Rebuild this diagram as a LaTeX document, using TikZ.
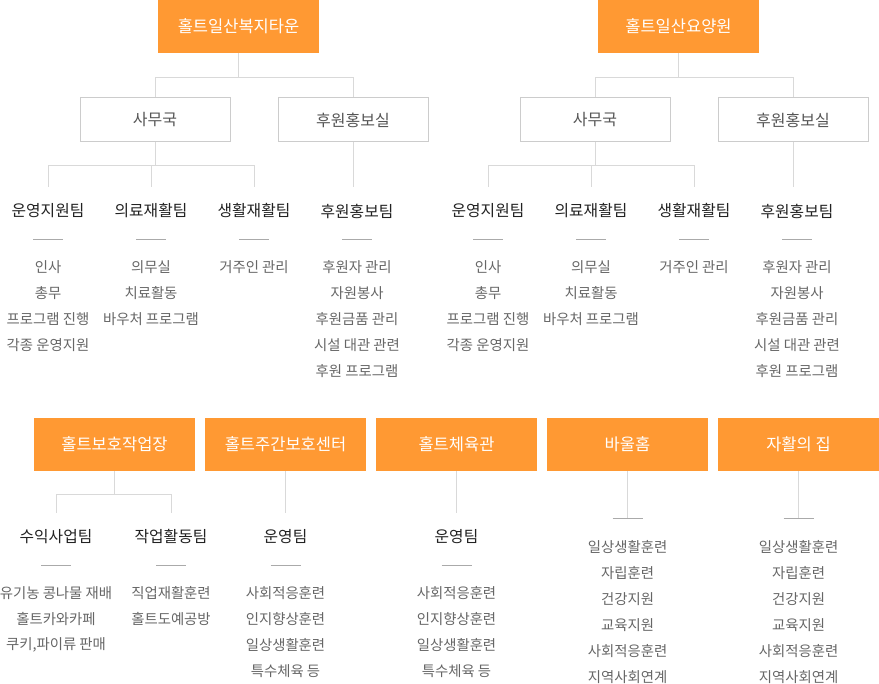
\documentclass[tikz,border=0pt]{standalone}
\usepackage{fontspec}
\setmainfont{Noto Sans CJK KR}
\usetikzlibrary{%
  positioning,%
  calc%
}
\definecolor{holtorange}{RGB}{255,153,51}
\definecolor{linegray}{RGB}{217,217,217}
\definecolor{boxgray}{RGB}{204,204,204}
\definecolor{deptgray}{RGB}{85,85,85}
\definecolor{teamdark}{RGB}{34,34,34}
\definecolor{itemgray}{RGB}{102,102,102}
\definecolor{tickgray}{RGB}{170,170,170}

\begin{document}
\begin{tikzpicture}[
  x=1pt, y=-1pt, line width=1pt,
  orgbox/.style={rectangle, minimum width=161pt, minimum height=53pt, inner sep=0pt, fill=holtorange, text=white, font=\fontsize{16.5}{19}\selectfont},
  deptbox/.style={rectangle, minimum width=150pt, minimum height=44pt, inner sep=0pt, draw=boxgray, fill=white, text=deptgray, font=\fontsize{16}{19}\selectfont},
  team/.style={rectangle, minimum height=46pt, inner sep=0pt, text=teamdark, font=\fontsize{15.8}{19}\selectfont},
  item/.style={inner sep=0pt, text=itemgray, font=\fontsize{14.4}{17}\selectfont},
  link/.style={draw=linegray},
  rule/.style={draw=tickgray}
]
\useasboundingbox (0,0) rectangle (879,684);

% two large facilities on top
\foreach \sx/\nm/\ttl in {0/w/홀트일산복지타운,440/y/홀트일산요양원} {
  \node[orgbox] (\nm-top) at (238.5+\sx,26.5) {\ttl};
  \node[deptbox] (\nm-samu) at (155+\sx,120) {사무국};
  \node[deptbox] (\nm-huwon) at (353+\sx,120) {후원홍보실};

  \node[team] (\nm-t1) at (48+\sx,211) {운영지원팀};
  \node[team] (\nm-t2) at (151+\sx,211) {의료재활팀};
  \node[team] (\nm-t3) at (254+\sx,211) {생활재활팀};
  \node[team] (\nm-t4) at (357+\sx,211) {후원홍보팀};

  \draw[link] (\nm-top.south) -- ++(0,24) -| (\nm-samu.north);
  \draw[link] (\nm-top.south) -- ++(0,24) -| (\nm-huwon.north);
  \draw[link] (\nm-samu.south) -- ++(0,23) -| (\nm-t1.north);
  \draw[link] (\nm-samu.south) -- ++(0,23) -| (\nm-t2.north);
  \draw[link] (\nm-samu.south) -- ++(0,23) -| (\nm-t3.north);
  \draw[link] (\nm-huwon.south) -- (\nm-huwon.south |- \nm-t4.north);

  \foreach \t in {1,...,4}
    \draw[rule] ($(\nm-t\t.south)+(-15,5)$) -- ++(30,0);

  \foreach \txt [count=\i] in {인사,총무,프로그램 진행,각종 운영지원}
    \node[item] (\nm-a\i) at ($(\nm-t1)+(0,30+26*\i)$) {\txt};
  \foreach \txt [count=\i] in {의무실,치료활동,바우처 프로그램}
    \node[item] (\nm-b\i) at ($(\nm-t2)+(0,30+26*\i)$) {\txt};
  \foreach \txt [count=\i] in {거주인 관리}
    \node[item] (\nm-c\i) at ($(\nm-t3)+(0,30+26*\i)$) {\txt};
  \foreach \txt [count=\i] in {후원자 관리,자원봉사,후원금품 관리,시설 대관 관련,후원 프로그램}
    \node[item] (\nm-d\i) at ($(\nm-t4)+(0,30+26*\i)$) {\txt};
}

% five small facilities below
\node[orgbox] (b1) at (114.5,444.5) {홀트보호작업장};
\node[orgbox] (b2) at (285.5,444.5) {홀트주간보호센터};
\node[orgbox] (b3) at (456.5,444.5) {홀트체육관};
\node[orgbox] (b4) at (627.5,444.5) {바울홈};
\node[orgbox] (b5) at (798.5,444.5) {자활의 집};

\node[team] (b1a) at (56,537) {수익사업팀};
\node[team] (b1b) at (171,537) {작업활동팀};
\node[team] (b2a) at (285.5,537) {운영팀};
\node[team] (b3a) at (456.5,537) {운영팀};
\coordinate (b4end) at (627.5,519);
\coordinate (b5end) at (798.5,519);

\draw[link] (b1.south) -- ++(0,23) -| (b1a.north);
\draw[link] (b1.south) -- ++(0,23) -| (b1b.north);
\draw[link] (b2.south) -- (b2a.north);
\draw[link] (b3.south) -- (b3a.north);
\draw[link] (b4.south) -- (b4end);
\draw[link] (b5.south) -- (b5end);

\foreach \t in {b1a,b1b,b2a,b3a}
  \draw[rule] ($(\t.south)+(-15,5)$) -- ++(30,0);
\foreach \t in {b4end,b5end}
  \draw[rule] ($(\t)+(-15,0)$) -- ++(30,0);

\foreach \txt [count=\i] in {유기농 콩나물 재배,홀트카와카페,{쿠키,파이류 판매}}
  \node[item] (b1a\i) at ($(b1a)+(0,30+26*\i)$) {\txt};
\foreach \txt [count=\i] in {직업재활훈련,홀트도예공방}
  \node[item] (b1b\i) at ($(b1b)+(0,30+26*\i)$) {\txt};
\foreach \txt [count=\i] in {사회적응훈련,인지향상훈련,일상생활훈련,특수체육 등} {
  \node[item] (b2a\i) at ($(b2a)+(0,30+26*\i)$) {\txt};
  \node[item] (b3a\i) at ($(b3a)+(0,30+26*\i)$) {\txt};
}
\foreach \txt [count=\i] in {일상생활훈련,자립훈련,건강지원,교육지원,사회적응훈련,지역사회연계} {
  \node[item] (b4\i) at ($(b4end)+(0,2+26*\i)$) {\txt};
  \node[item] (b5\i) at ($(b5end)+(0,2+26*\i)$) {\txt};
}
\end{tikzpicture}
\end{document}
